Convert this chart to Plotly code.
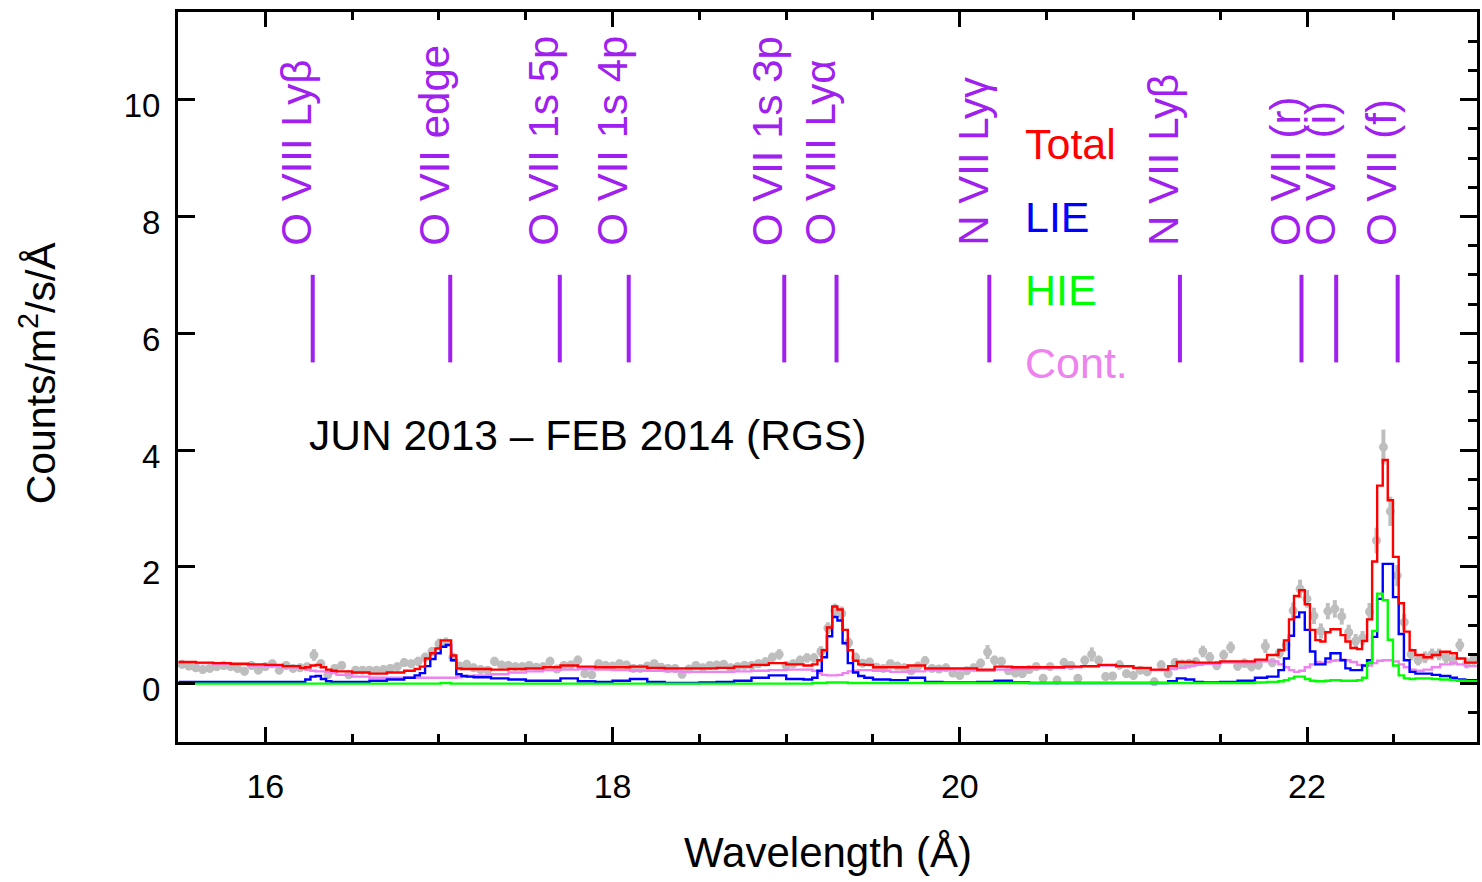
import numpy as np
import plotly.graph_objects as go

FONT = "Liberation Sans, Arial, Helvetica, sans-serif"

# ---------------- observed RGS spectrum (0.04 A bins from 15.52 A) ----------------
DATA_START = 15.52
DATA_STEP = 0.04
DATA_FLUX = [
    0.33, 0.30, 0.27, 0.24, 0.26, 0.29, 0.31, 0.29, 0.26, 0.21,
    0.31, 0.23, 0.29, 0.34, 0.23, 0.31, 0.26, 0.27, 0.29, 0.49,
    0.34, 0.15, 0.26, 0.31, 0.15, 0.23, 0.23, 0.23, 0.23, 0.24,
    0.26, 0.29, 0.36, 0.34, 0.38, 0.45, 0.55, 0.68, 0.70, 0.45,
    0.30, 0.33, 0.27, 0.24, 0.23, 0.38, 0.32, 0.31, 0.29, 0.29,
    0.31, 0.28, 0.29, 0.38, 0.25, 0.31, 0.32, 0.40, 0.17, 0.15,
    0.34, 0.31, 0.30, 0.34, 0.32, 0.26, 0.26, 0.30, 0.34, 0.28,
    0.26, 0.26, 0.16, 0.25, 0.31, 0.27, 0.31, 0.32, 0.33, 0.27,
    0.29, 0.31, 0.31, 0.34, 0.37, 0.45, 0.50, 0.31, 0.34, 0.40,
    0.44, 0.44, 0.55, 0.95, 1.25, 1.20, 0.70, 0.45, 0.35, 0.37,
    0.28, 0.26, 0.34, 0.30, 0.27, 0.22, 0.30, 0.39, 0.26, 0.25,
    0.27, 0.18, 0.14, 0.22, 0.27, 0.35, 0.54, 0.40, 0.38, 0.22,
    0.18, 0.17, 0.24, 0.29, 0.09, 0.29, 0.06, 0.36, 0.31, 0.09,
    0.40, 0.50, 0.40, 0.12, 0.13, 0.32, 0.17, 0.14, 0.23, 0.20,
    0.03, 0.32, 0.17, 0.36, 0.33, 0.34, 0.37, 0.55, 0.45, 0.31,
    0.49, 0.62, 0.30, 0.35, 0.29, 0.32, 0.64, 0.36, 0.52, 0.66,
    1.25, 1.62, 1.45, 1.16, 0.90, 1.24, 1.28, 1.15, 0.88, 0.73,
    0.78, 1.23, 2.45, 4.05, 2.95, 1.85, 1.05, 0.50, 0.40, 0.45,
    0.50, 0.50, 0.45, 0.40, 0.66, 0.35, 0.42,
]
DATA_ERR = [
    0.07, 0.07, 0.07, 0.07, 0.07, 0.07, 0.07, 0.07, 0.07, 0.07,
    0.07, 0.07, 0.07, 0.07, 0.07, 0.07, 0.07, 0.07, 0.07, 0.10,
    0.07, 0.07, 0.07, 0.07, 0.07, 0.07, 0.07, 0.07, 0.07, 0.07,
    0.07, 0.07, 0.07, 0.07, 0.08, 0.08, 0.08, 0.09, 0.09, 0.08,
    0.07, 0.07, 0.07, 0.07, 0.07, 0.08, 0.07, 0.07, 0.07, 0.07,
    0.07, 0.07, 0.07, 0.08, 0.07, 0.07, 0.07, 0.08, 0.07, 0.07,
    0.07, 0.07, 0.07, 0.07, 0.07, 0.07, 0.07, 0.07, 0.07, 0.07,
    0.07, 0.07, 0.07, 0.07, 0.07, 0.07, 0.07, 0.07, 0.07, 0.07,
    0.07, 0.07, 0.07, 0.07, 0.08, 0.08, 0.09, 0.07, 0.07, 0.08,
    0.08, 0.08, 0.09, 0.10, 0.12, 0.12, 0.09, 0.08, 0.07, 0.07,
    0.07, 0.07, 0.07, 0.07, 0.07, 0.07, 0.07, 0.08, 0.07, 0.07,
    0.07, 0.07, 0.07, 0.07, 0.07, 0.08, 0.12, 0.08, 0.08, 0.07,
    0.07, 0.07, 0.07, 0.07, 0.07, 0.07, 0.07, 0.08, 0.07, 0.07,
    0.08, 0.12, 0.08, 0.07, 0.07, 0.08, 0.07, 0.07, 0.07, 0.07,
    0.07, 0.08, 0.07, 0.08, 0.08, 0.08, 0.08, 0.10, 0.09, 0.08,
    0.09, 0.10, 0.08, 0.08, 0.08, 0.08, 0.12, 0.08, 0.09, 0.10,
    0.14, 0.16, 0.15, 0.14, 0.13, 0.14, 0.15, 0.14, 0.13, 0.12,
    0.12, 0.15, 0.22, 0.30, 0.25, 0.18, 0.14, 0.10, 0.09, 0.10,
    0.10, 0.10, 0.10, 0.09, 0.11, 0.09, 0.10,
]

# ---------------- model components (histogram bins, left edges in A) ----------------
MODEL_WAVE = [
    15.5, 15.6, 15.7, 15.8, 15.9, 16.0, 16.1, 16.2, 16.23, 16.26,
    16.29, 16.32, 16.35, 16.38, 16.41, 16.5, 16.6, 16.7, 16.8, 16.86,
    16.89, 16.92, 16.95, 16.98, 17.01, 17.04, 17.07, 17.10, 17.13, 17.16,
    17.2, 17.3, 17.4, 17.5, 17.6, 17.7, 17.8, 17.9, 18.0, 18.1,
    18.2, 18.3, 18.4, 18.5, 18.6, 18.7, 18.8, 18.9, 19.0, 19.1,
    19.15, 19.18, 19.205, 19.235, 19.265, 19.295, 19.325, 19.355, 19.385, 19.415,
    19.45, 19.5, 19.6, 19.7, 19.8, 19.9, 20.0, 20.1, 20.2, 20.3,
    20.4, 20.5, 20.6, 20.7, 20.8, 20.9, 21.0, 21.1, 21.2, 21.25,
    21.3, 21.35, 21.4, 21.5, 21.6, 21.7, 21.77, 21.835, 21.867, 21.896,
    21.925, 21.955, 21.987, 22.017, 22.048, 22.077, 22.106, 22.135, 22.164, 22.193,
    22.221, 22.25, 22.288, 22.317, 22.346, 22.375, 22.404, 22.436, 22.465, 22.495,
    22.528, 22.558, 22.591, 22.624, 22.671, 22.719, 22.767, 22.825, 22.863, 22.911,
]
MODEL_END = 23.0
TOTAL = [
    0.37, 0.36, 0.35, 0.34, 0.33, 0.32, 0.30, 0.27, 0.28, 0.31,
    0.32, 0.28, 0.24, 0.22, 0.21, 0.19, 0.17, 0.19, 0.22, 0.25,
    0.29, 0.43, 0.52, 0.60, 0.74, 0.74, 0.48, 0.26, 0.25, 0.25,
    0.25, 0.24, 0.25, 0.26, 0.28, 0.31, 0.29, 0.28, 0.28, 0.29,
    0.27, 0.26, 0.26, 0.26, 0.27, 0.29, 0.32, 0.35, 0.33, 0.31,
    0.33, 0.40, 0.57, 0.96, 1.32, 1.27, 0.92, 0.57, 0.39, 0.33,
    0.32, 0.28, 0.28, 0.31, 0.26, 0.26, 0.26, 0.24, 0.29, 0.28,
    0.28, 0.28, 0.29, 0.30, 0.32, 0.30, 0.27, 0.24, 0.30, 0.37,
    0.37, 0.36, 0.36, 0.38, 0.38, 0.41, 0.49, 0.57, 0.74, 1.10,
    1.50, 1.60, 1.36, 0.92, 0.745, 0.72, 0.88, 0.93, 0.93, 0.83,
    0.72, 0.61, 0.59, 0.73, 1.10, 2.09, 3.39, 3.83, 3.14, 2.17,
    1.375, 0.89, 0.57, 0.49, 0.45, 0.49, 0.545, 0.52, 0.43, 0.36,
]
LIE = [
    0.03, 0.03, 0.03, 0.03, 0.03, 0.03, 0.03, 0.03, 0.07, 0.12,
    0.13, 0.08, 0.04, 0.03, 0.03, 0.03, 0.05, 0.07, 0.10, 0.14,
    0.18, 0.30, 0.42, 0.52, 0.63, 0.66, 0.40, 0.16, 0.13, 0.12,
    0.11, 0.09, 0.07, 0.05, 0.05, 0.09, 0.04, 0.03, 0.05, 0.08,
    0.03, 0.01, 0.01, 0.02, 0.03, 0.05, 0.10, 0.14, 0.08, 0.07,
    0.10, 0.22, 0.45, 0.81, 1.14, 1.08, 0.69, 0.35, 0.19, 0.13,
    0.10, 0.07, 0.06, 0.10, 0.03, 0.02, 0.02, 0.03, 0.05, 0.02,
    0.01, 0.01, 0.01, 0.01, 0.01, 0.01, 0.01, 0.01, 0.04, 0.09,
    0.07, 0.03, 0.02, 0.03, 0.05, 0.10, 0.12, 0.23, 0.43, 0.82,
    1.14, 1.22, 0.92, 0.55, 0.33, 0.33, 0.43, 0.52, 0.52, 0.40,
    0.26, 0.23, 0.23, 0.31, 0.40, 0.80, 1.45, 2.05, 2.05, 1.48,
    0.85, 0.40, 0.20, 0.17, 0.17, 0.15, 0.13, 0.10, 0.07, 0.06,
]
HIE = [
    0.0, 0.0, 0.0, 0.0, 0.0, 0.0, 0.0, 0.0, 0.0, 0.0,
    0.0, 0.0, 0.0, 0.0, 0.0, 0.0, 0.0, 0.0, 0.0, 0.0,
    0.0, 0.0, 0.0, 0.0, 0.01, 0.01, 0.0, 0.0, 0.0, 0.0,
    0.0, 0.0, 0.0, 0.0, 0.0, 0.0, 0.0, 0.0, 0.0, 0.0,
    0.0, 0.0, 0.0, 0.0, 0.0, 0.0, 0.0, 0.0, 0.0, 0.0,
    0.01, 0.01, 0.01, 0.02, 0.02, 0.02, 0.02, 0.01, 0.01, 0.01,
    0.01, 0.01, 0.01, 0.01, 0.01, 0.01, 0.01, 0.01, 0.01, 0.01,
    0.01, 0.01, 0.01, 0.01, 0.01, 0.01, 0.01, 0.01, 0.01, 0.01,
    0.01, 0.01, 0.01, 0.01, 0.01, 0.02, 0.03, 0.04, 0.06, 0.09,
    0.12, 0.12, 0.08, 0.05, 0.04, 0.04, 0.05, 0.06, 0.06, 0.05,
    0.05, 0.05, 0.06, 0.10, 0.35, 0.90, 1.54, 1.43, 0.75, 0.31,
    0.14, 0.09, 0.08, 0.09, 0.09, 0.08, 0.07, 0.06, 0.05, 0.04,
]
CONT = [
    0.36, 0.35, 0.34, 0.33, 0.31, 0.30, 0.28, 0.26, 0.24, 0.22,
    0.21, 0.21, 0.20, 0.18, 0.15, 0.12, 0.10, 0.10, 0.10, 0.10,
    0.10, 0.10, 0.10, 0.10, 0.10, 0.10, 0.10, 0.11, 0.12, 0.13,
    0.14, 0.16, 0.19, 0.21, 0.23, 0.24, 0.25, 0.24, 0.23, 0.22,
    0.22, 0.21, 0.20, 0.20, 0.20, 0.21, 0.22, 0.23, 0.24, 0.24,
    0.22, 0.18, 0.15, 0.14, 0.14, 0.15, 0.18, 0.21, 0.22, 0.23,
    0.23, 0.22, 0.20, 0.21, 0.23, 0.24, 0.24, 0.22, 0.24, 0.25,
    0.26, 0.27, 0.28, 0.29, 0.31, 0.29, 0.26, 0.23, 0.25, 0.27,
    0.30, 0.32, 0.34, 0.36, 0.35, 0.38, 0.38, 0.33, 0.28, 0.23,
    0.20, 0.22, 0.28, 0.33, 0.37, 0.36, 0.37, 0.39, 0.40, 0.41,
    0.40, 0.37, 0.32, 0.30, 0.31, 0.35, 0.39, 0.40, 0.40, 0.38,
    0.33, 0.28, 0.24, 0.22, 0.24, 0.28, 0.33, 0.35, 0.33, 0.30,
]

# ---------------- line identifications ----------------
LINE_WAVES = [16.273, 17.065, 17.696, 18.093, 18.989, 19.290,
              20.170, 21.268, 21.968, 22.168, 22.522]
LINE_LABELS = ["O VIII Lyβ", "O VII edge", "O VII 1s 5p", "O VII 1s 4p",
               "O VII 1s 3p", "O VIII Lyα", "N VII Lyγ", "N VII Lyβ",
               "O VII (r)", "O VII (i)", "O VII (f)"]
LINE_BOTTOM, LINE_TOP = 5.5, 7.0
LABEL_BASE = 7.46

LEGEND_NAMES = ["Total", "LIE", "HIE", "Cont."]
LEGEND_COLORS = ["#FF0000", "#0000FF", "#00FF00", "#EE82EE"]
LEGEND_Y = [9.24, 7.99, 6.74, 5.49]
LEGEND_X = 20.365

PURPLE = "#A020F0"
GRAY = "#BEBEBE"

fig = go.Figure()

data_x = DATA_START + DATA_STEP * np.arange(len(DATA_FLUX))
fig.add_trace(go.Scatter(
    x=data_x, y=DATA_FLUX, mode="markers",
    marker=dict(color=GRAY, size=9, line=dict(width=0)),
    error_y=dict(type="data", array=DATA_ERR, visible=True, color=GRAY,
                 thickness=4, width=0),
    showlegend=False, hoverinfo="skip"))

mx = MODEL_WAVE + [MODEL_END]
for vals, col in [(CONT, "#EE82EE"), (LIE, "#0000FF"), (HIE, "#00FF00"), (TOTAL, "#FF0000")]:
    fig.add_trace(go.Scatter(
        x=mx, y=vals + [vals[-1]], mode="lines",
        line=dict(color=col, width=2.4, shape="hv"),
        showlegend=False, hoverinfo="skip"))

lx, ly = [], []
for w in LINE_WAVES:
    lx += [w, w, None]
    ly += [LINE_BOTTOM, LINE_TOP, None]
fig.add_trace(go.Scatter(x=lx, y=ly, mode="lines",
                         line=dict(color=PURPLE, width=4),
                         showlegend=False, hoverinfo="skip"))

# trace carrying the right-hand y axis (minor ticks on the right only)
fig.add_trace(go.Scatter(x=[None], y=[None], yaxis="y2", mode="lines",
                         showlegend=False, hoverinfo="skip"))

ann = []
for w, t in zip(LINE_WAVES, LINE_LABELS):
    ann.append(dict(x=w, y=LABEL_BASE, xref="x", yref="y", text=t, textangle=-90,
                    showarrow=False, xanchor="center", yanchor="bottom", xshift=-16,
                    font=dict(family=FONT, size=42, color=PURPLE)))
for name, col, yy in zip(LEGEND_NAMES, LEGEND_COLORS, LEGEND_Y):
    ann.append(dict(x=LEGEND_X, y=yy, xref="x", yref="y", text=name, showarrow=False,
                    xanchor="left", yanchor="middle",
                    font=dict(family=FONT, size=43, color=col)))
ann.append(dict(x=16.24, y=4.24, xref="x", yref="y", text="JUN 2013 – FEB 2014 (RGS)",
                showarrow=False, xanchor="left", yanchor="middle",
                font=dict(family=FONT, size=42.5, color="black")))
ann.append(dict(x=0.5, y=0, xref="paper", yref="paper", text="Wavelength (Å)",
                showarrow=False, xanchor="center", yanchor="middle", yshift=-110,
                font=dict(family=FONT, size=42, color="black")))
ann.append(dict(x=0, y=0.505, xref="paper", yref="paper", text="Counts/m<sup>2</sup>/s/Å",
                textangle=-90, showarrow=False, xanchor="center", yanchor="middle",
                xshift=-140, font=dict(family=FONT, size=41, color="black")))

XR = [15.497, 22.979]
YR = [-1.0, 11.5]

fig.update_layout(
    width=1482, height=882,
    margin=dict(l=178, r=2, t=12, b=140),
    paper_bgcolor="white", plot_bgcolor="white",
    showlegend=False,
    annotations=ann,
    xaxis=dict(range=XR, tick0=0, dtick=2, ticks="inside", ticklen=15, tickwidth=3,
               tickcolor="black", showline=True, linewidth=3, linecolor="black",
               mirror="ticks", showgrid=False, zeroline=False,
               tickfont=dict(family=FONT, size=34, color="black"),
               ticklabelstandoff=12,
               minor=dict(dtick=0.5, tick0=0, ticks="inside", ticklen=8, tickwidth=3,
                          tickcolor="black", showgrid=False)),
    yaxis=dict(range=YR, tick0=0, dtick=2, ticks="inside", ticklen=17, tickwidth=3,
               tickcolor="black", showline=True, linewidth=3, linecolor="black",
               mirror=True, showgrid=False, zeroline=False,
               tickfont=dict(family=FONT, size=33, color="black"),
               ticklabelstandoff=8, ticklabelshift=6),
    yaxis2=dict(range=YR, overlaying="y", side="right", tick0=0, dtick=2,
                ticks="inside", ticklen=17, tickwidth=3, tickcolor="black",
                showticklabels=False, showline=False, showgrid=False, zeroline=False,
                minor=dict(dtick=0.5, tick0=0, ticks="inside", ticklen=9, tickwidth=3,
                           tickcolor="black", showgrid=False)),
)

fig.write_html("out.html")
